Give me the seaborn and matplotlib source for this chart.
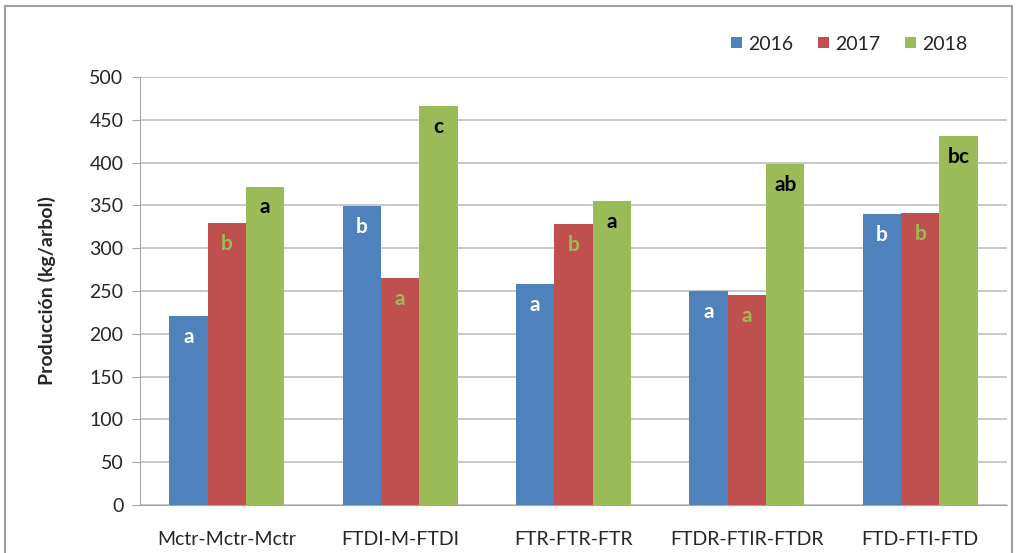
import pandas as pd
import seaborn as sns
import matplotlib.pyplot as plt
from matplotlib.patches import Rectangle

# --- data ---
treatments = ["Mctr-Mctr-Mctr", "FTDI-M-FTDI", "FTR-FTR-FTR", "FTDR-FTIR-FTDR", "FTD-FTI-FTD"]
years = ["2016", "2017", "2018"]
prod_2016 = [221, 349, 258, 250, 340]
prod_2017 = [329, 265, 328, 245, 341]
prod_2018 = [372, 466, 355, 398, 431]
letters_2016 = ["a", "b", "a", "a", "b"]
letters_2017 = ["b", "a", "b", "a", "b"]
letters_2018 = ["a", "c", "a", "ab", "bc"]

colors = ["#4F81BD", "#C0504D", "#9BBB59"]
letter_colors = ["white", "#9BBB59", "black"]
text_color = "#262626"

df = pd.DataFrame({
    "Tratamiento": treatments * 3,
    "Año": [y for y in years for _ in treatments],
    "Produccion": prod_2016 + prod_2017 + prod_2018,
})

sns.set_style("white")
plt.rcParams["font.family"] = ["Lato", "DejaVu Sans"]

fig = plt.figure(figsize=(10.19, 5.53), dpi=100)
ax = fig.add_axes([0.1374, 0.0868, 0.8508, 0.774])

sns.barplot(data=df, x="Tratamiento", y="Produccion", hue="Año",
            palette=colors, width=0.663, saturation=1, linewidth=0,
            ax=ax, zorder=3)

# letters inside the top of each bar
all_letters = [letters_2016, letters_2017, letters_2018]
for cont, labs, col in zip(ax.containers, all_letters, letter_colors):
    for bar, lab in zip(cont, labs):
        ax.annotate(lab, (bar.get_x() + bar.get_width() / 2, bar.get_height()),
                    xytext=(0, -15), textcoords="offset points",
                    ha="center", va="center", fontsize=15, fontweight="bold",
                    color=col, zorder=4)

ax.set_ylim(0, 500)
ax.set_xlim(-0.5, 4.5)
ax.set_yticks(range(0, 501, 50))
ax.yaxis.grid(True, color="#C4C4C4", linewidth=1.3, zorder=0)
ax.set_axisbelow(True)
for s in ["top", "right"]:
    ax.spines[s].set_visible(False)
ax.spines["left"].set_color("#A6A6A6")
ax.spines["bottom"].set_color("#A6A6A6")

# x ticks between categories like Excel
ax.set_xticks(range(5))
ax.set_xticklabels(treatments, fontsize=14, color=text_color)
ax.tick_params(axis="x", length=0, pad=19)
ax.set_xticks([-0.5, 0.5, 1.5, 2.5, 3.5, 4.5], minor=True)
ax.tick_params(axis="x", which="minor", length=6, color="#A6A6A6", direction="out")
ax.tick_params(axis="y", labelsize=14, labelcolor=text_color, length=6,
               color="#A6A6A6", left=True, pad=6)

ax.set_xlabel("")
ax.set_ylabel("Producción (kg/arbol)", fontsize=14, fontweight="bold",
              color=text_color, labelpad=24)

h, l = ax.get_legend_handles_labels()
ax.get_legend().remove()
fig.legend(h, l, loc="center right", bbox_to_anchor=(967 / 1019, 1 - 44 / 553),
           ncol=3, frameon=False, fontsize=14, labelcolor=text_color,
           handlelength=0.55, handleheight=0.55, handletextpad=0.3,
           columnspacing=1.3, borderpad=0, borderaxespad=0)

# grey frame around the chart
fig.patches.append(Rectangle((0.005, -0.02), 0.988, 1.009, transform=fig.transFigure,
                             fill=False, edgecolor="#A0A0A0", linewidth=1.5))

plt.savefig("out.png", dpi=100)
